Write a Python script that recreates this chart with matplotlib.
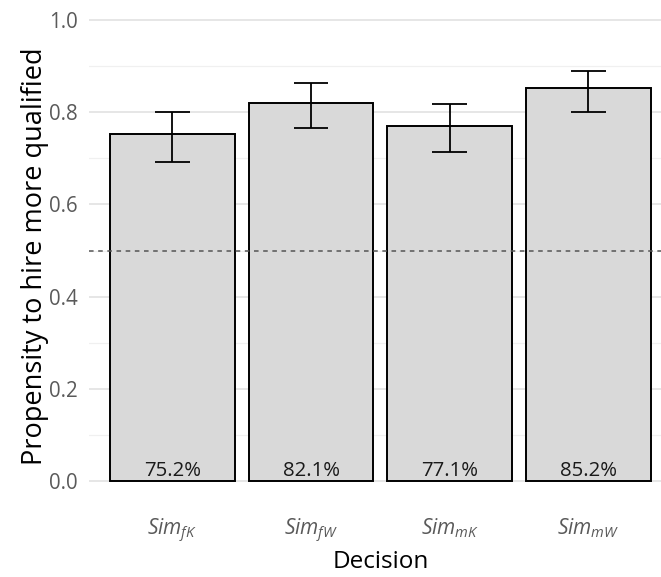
import matplotlib
matplotlib.use("Agg")
import matplotlib.pyplot as plt
import numpy as np

plt.rcParams['font.family'] = ['Open Sans', 'DejaVu Sans']
plt.rcParams['mathtext.fontset'] = 'custom'
plt.rcParams['mathtext.rm'] = 'Open Sans'
plt.rcParams['mathtext.it'] = 'Open Sans:italic'

# Anteil "mehr qualifiziert" je Entscheidung, mit 95%-KI
decisions = [r'$\mathit{Sim}_{fK}$', r'$\mathit{Sim}_{fW}$',
             r'$\mathit{Sim}_{mK}$', r'$\mathit{Sim}_{mW}$']
share = [0.752, 0.821, 0.771, 0.852]
ci_low = [0.693, 0.766, 0.713, 0.800]
ci_high = [0.801, 0.863, 0.818, 0.890]

x = np.arange(1, len(share) + 1)

fig = plt.figure(figsize=(6.61, 5.77), dpi=100)
ax = fig.add_axes([0.135, 0.1264, 0.881, 0.8789])

ax.bar(x, share, width=0.9, color='#D9D9D9', edgecolor='black', linewidth=1.4, zorder=2)
ax.errorbar(x, share,
            yerr=[np.array(share) - np.array(ci_low), np.array(ci_high) - np.array(share)],
            fmt='none', ecolor='black', elinewidth=1.3, capsize=0, zorder=3)
# Kappen mit Breite 0.25 wie geom_errorbar
for xi, lo, hi in zip(x, ci_low, ci_high):
    ax.hlines([lo, hi], xi - 0.125, xi + 0.125, color='black', linewidth=1.3, zorder=3)

ax.axhline(0.5, color='#555555', linestyle=(0, (3, 3)), linewidth=1.1, zorder=4)

for xi, v in zip(x, share):
    ax.text(xi, 0.0, f'{v*100:.1f}%', ha='center', va='bottom', fontsize=14.7, color='#1a1a1a', zorder=5)

ax.set_xlim(0.4, 4.6)
ax.set_ylim(-0.05, 1.05)
ax.set_xticks(x)
ax.set_xticklabels(decisions, fontsize=15, color='#5a5a5a')
ax.set_yticks([0, 0.2, 0.4, 0.6, 0.8, 1.0])
ax.set_yticklabels(['0.0', '0.2', '0.4', '0.6', '0.8', '1.0'], fontsize=14.8, color='#5a5a5a')
ax.set_yticks([0.1, 0.3, 0.5, 0.7, 0.9], minor=True)
ax.tick_params(axis='both', which='both', length=0)
ax.tick_params(axis='y', pad=8)
ax.tick_params(axis='x', pad=9)

ax.grid(axis='y', which='major', color='#E6E6E6', linewidth=1.4, zorder=0)
ax.grid(axis='y', which='minor', color='#F0F0F0', linewidth=0.9, zorder=0)
ax.grid(axis='x', visible=False)
for s in ax.spines.values():
    s.set_visible(False)

ax.set_xlabel('Decision', fontsize=17.5, color='black', va='center')
ax.set_ylabel('Propensity to hire more qualified', fontsize=19.5, color='black',
              ha='center', va='center')
ax.xaxis.set_label_coords(0.5, -0.114)
ax.yaxis.set_label_coords(-0.093, 0.489)

fig.savefig('out.png', dpi=100)
